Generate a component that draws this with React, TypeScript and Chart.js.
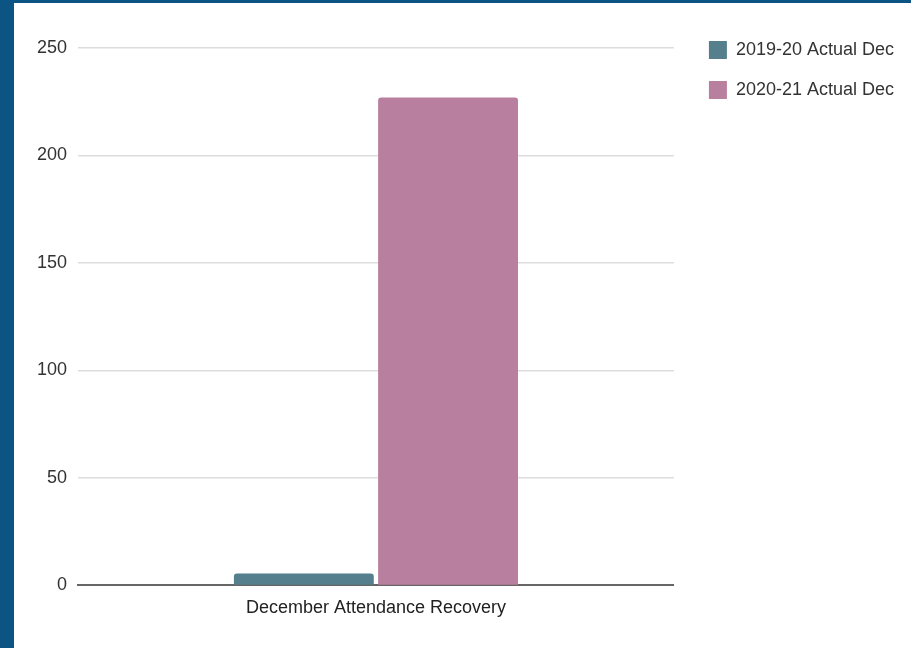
import React, { useEffect, useRef } from "react";
import { Chart, registerables } from "chart.js";

Chart.register(...registerables);

const categories = ["December Attendance Recovery"];
const series2019 = [5.5];
const series2020 = [227];
const seriesLabels = ["2019-20 Actual Dec", "2020-21 Actual Dec"];
const seriesColors = ["#557f8d", "#b87f9f"];
const yMin = 0;
const yMax = 250;
const yStep = 50;

export default function App() {
  const ref = useRef<HTMLCanvasElement>(null);
  useEffect(() => {
    const canvas = ref.current;
    if (!canvas) return;
    const font = { family: "'Liberation Sans', Arial, sans-serif", size: 18 };
    const chart = new Chart(canvas, {
      type: "bar",
      data: {
        labels: categories,
        datasets: [
          {
            label: seriesLabels[0],
            data: series2019,
            backgroundColor: seriesColors[0],
            borderRadius: 3,
            categoryPercentage: 0.484,
            barPercentage: 0.97,
          },
          {
            label: seriesLabels[1],
            data: series2020,
            backgroundColor: seriesColors[1],
            borderRadius: 3,
            categoryPercentage: 0.484,
            barPercentage: 0.97,
          },
        ],
      },
      options: {
        responsive: false,
        animation: false,
        layout: { padding: { left: 0, right: 7, top: 16, bottom: 25 } },
        plugins: {
          tooltip: { enabled: false },
          legend: {
            position: "right",
            align: "start",
            maxWidth: 260,
            labels: {
              boxWidth: 18,
              boxHeight: 18,
              padding: 22,
              color: "#333333",
              font,
            },
          },
        },
        scales: {
          x: {
            position: "bottom",
            grid: { display: false },
            border: { display: true, color: "#666666", width: 2 },
            ticks: { color: "#222222", font, padding: 4 },
          },
          xTop: {
            type: "category",
            position: "top",
            labels: categories,
            grid: { display: false },
            border: { display: false },
            ticks: { display: false },
            afterFit: (s: any) => {
              s.height = 29;
            },
          },
          y: {
            min: yMin,
            max: yMax,
            ticks: { stepSize: yStep, color: "#333333", font, padding: 11 },
            border: { display: false },
            grid: {
              drawTicks: false,
              color: (c: any) => (c.tick && c.tick.value === 0 ? "rgba(0,0,0,0)" : "#dddddd"),
              lineWidth: 1.5,
            },
            afterFit: (s: any) => {
              s.width = 64;
            },
          },
          yRight: {
            type: "linear",
            position: "right",
            display: true,
            grid: { display: false },
            border: { display: false },
            ticks: { display: false },
            afterFit: (s: any) => {
              s.width = 13;
            },
          },
        },
      },
    });
    return () => chart.destroy();
  }, []);
  return (
    <div
      style={{
        position: "fixed",
        left: 0,
        top: 0,
        width: 911,
        height: 648,
        background: "#ffffff",
        overflow: "hidden",
      }}
    >
      <div style={{ position: "absolute", left: 0, top: 0, width: 14, height: 648, background: "#0c5484" }} />
      <div style={{ position: "absolute", left: 0, top: 0, width: 911, height: 3, background: "#0c5484" }} />
      <canvas
        ref={ref}
        width={897}
        height={645}
        style={{ position: "absolute", left: 14, top: 3, width: 897, height: 645 }}
      />
    </div>
  );
}
